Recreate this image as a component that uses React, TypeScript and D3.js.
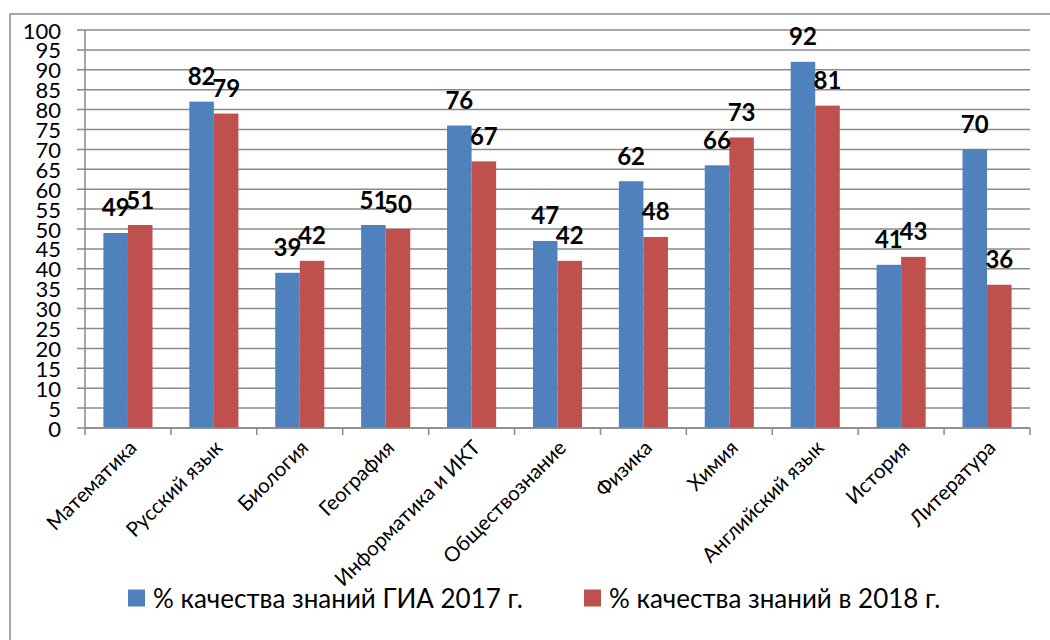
import React, { useRef, useEffect } from "react";
import * as d3 from "d3";

const categories = [
  "Математика",
  "Русский язык",
  "Биология",
  "География",
  "Информатика и ИКТ",
  "Обществознание",
  "Физика",
  "Химия",
  "Английский язык",
  "История",
  "Литература",
];
const values2017 = [49, 82, 39, 51, 76, 47, 62, 66, 92, 41, 70];
const values2018 = [51, 79, 42, 50, 67, 42, 48, 73, 81, 43, 36];
const seriesNames = ["% качества знаний ГИА 2017 г.", "% качества знаний в 2018 г."];
const seriesColors = ["#4F81BD", "#C0504D"];
const yTicks = d3.range(0, 101, 5);

const App = () => {
  const ref = useRef<SVGSVGElement>(null);

  useEffect(() => {
    const width = 1050;
    const height = 640;
    const font = "Lato, 'Open Sans', sans-serif";
    const grid = "#8a8a8a";

    const svg = d3.select(ref.current);
    svg.selectAll("*").remove();
    svg.attr("width", width).attr("height", height).style("font-family", font);

    svg.append("rect").attr("width", width).attr("height", height).attr("fill", "#fff");
    // chart frame (runs off the right and bottom edges)
    svg.append("rect")
      .attr("x", 10).attr("y", 14).attr("width", 1100).attr("height", 700)
      .attr("fill", "none").attr("stroke", grid).attr("stroke-width", 1.5);

    const x = d3.scaleBand().domain(categories).range([85, 1030]);
    const sub = d3.scaleBand().domain(["a", "b"]).range([0, x.bandwidth()]).paddingOuter(0.75);
    const y = d3.scaleLinear().domain([0, 100]).range([428, 30]);

    // gridlines + y ticks
    svg.append("g").selectAll("line").data(yTicks).join("line")
      .attr("x1", 77).attr("x2", 1030)
      .attr("y1", d => y(d)).attr("y2", d => y(d))
      .attr("stroke", grid).attr("stroke-width", 1.5);

    svg.append("g").selectAll("text").data(yTicks).join("text")
      .attr("x", 61).attr("y", d => y(d))
      .attr("text-anchor", "end").attr("dominant-baseline", "central")
      .attr("font-size", 22).attr("fill", "#000")
      .text(d => d);

    // bars
    const rows = categories.map((c, i) => ({ c, v: [values2017[i], values2018[i]] }));
    const groups = svg.append("g").selectAll("g").data(rows).join("g")
      .attr("transform", d => `translate(${x(d.c)},0)`);

    groups.selectAll("rect").data(d => d.v.map((v, k) => ({ v, k }))).join("rect")
      .attr("x", d => sub(d.k ? "b" : "a")!)
      .attr("width", sub.bandwidth())
      .attr("y", d => y(d.v))
      .attr("height", d => y(0) - y(d.v))
      .attr("fill", d => seriesColors[d.k]);

    groups.selectAll("text").data(d => d.v.map((v, k) => ({ v, k }))).join("text")
      .attr("x", d => sub(d.k ? "b" : "a")! + sub.bandwidth() / 2)
      .attr("y", d => y(d.v) - 26)
      .attr("text-anchor", "middle").attr("dominant-baseline", "central")
      .attr("font-size", 24).attr("font-weight", "bold")
      .text(d => d.v);

    // axes
    svg.append("line")
      .attr("x1", 85).attr("x2", 85).attr("y1", y(100)).attr("y2", y(0))
      .attr("stroke", grid).attr("stroke-width", 1.5);
    svg.append("line")
      .attr("x1", 85).attr("x2", 1030).attr("y1", y(0)).attr("y2", y(0))
      .attr("stroke", grid).attr("stroke-width", 1.5);
    const bounds = categories.map(c => x(c)!).concat([1030]);
    svg.append("g").selectAll("line").data(bounds).join("line")
      .attr("x1", d => d).attr("x2", d => d)
      .attr("y1", y(0)).attr("y2", y(0) + 7)
      .attr("stroke", grid).attr("stroke-width", 1.5);

    // category labels
    svg.append("g").selectAll("text").data(categories).join("text")
      .attr("transform", d => `translate(${x(d)! + x.bandwidth() / 2 + 10},${y(0) + 21}) rotate(-45)`)
      .attr("text-anchor", "end")
      .attr("font-size", 20.5)
      .text(d => d);

    // legend
    const legendX = [128, 584];
    const lg = svg.append("g").selectAll("g").data(seriesNames).join("g")
      .attr("transform", (d, i) => `translate(${legendX[i]},598)`);
    lg.append("rect").attr("x", 0).attr("y", -8.5).attr("width", 17).attr("height", 17)
      .attr("fill", (d, i) => seriesColors[i]);
    lg.append("text").attr("x", 25).attr("y", 0)
      .attr("dominant-baseline", "central").attr("font-size", 26)
      .text(d => d);
  }, []);

  return (
    <svg ref={ref} style={{ position: "absolute", left: 0, top: 0, display: "block" }} />
  );
};

export default App;
